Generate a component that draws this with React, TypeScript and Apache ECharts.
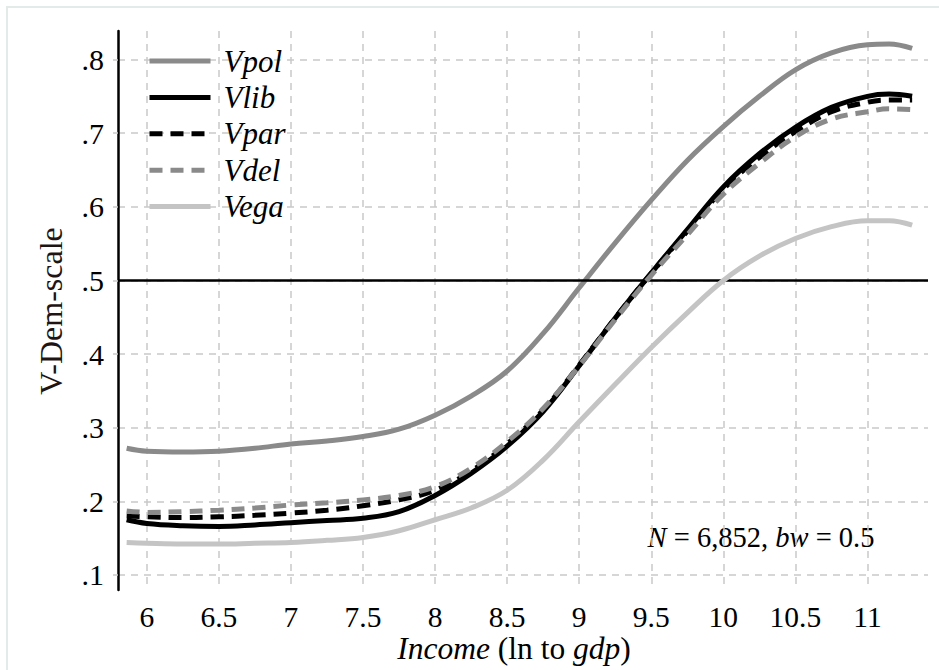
import React, { useEffect, useRef } from 'react';
import * as echarts from 'echarts';

// Income (ln of gdp) positions at which the smoothed curves are read
const income = [5.86, 6.0, 6.25, 6.5, 6.75, 7.0, 7.25, 7.5, 7.75, 8.0, 8.25, 8.5, 8.75, 9.0, 9.25, 9.5, 9.75, 10.0, 10.25, 10.5, 10.75, 11.0, 11.15, 11.31];

const vpol = [0.272, 0.268, 0.267, 0.268, 0.272, 0.278, 0.282, 0.288, 0.298, 0.317, 0.343, 0.377, 0.428, 0.49, 0.551, 0.609, 0.663, 0.709, 0.75, 0.786, 0.809, 0.82, 0.821, 0.815];
const vlib = [0.175, 0.17, 0.167, 0.166, 0.168, 0.171, 0.174, 0.177, 0.186, 0.208, 0.238, 0.275, 0.322, 0.384, 0.449, 0.51, 0.569, 0.627, 0.672, 0.708, 0.735, 0.75, 0.753, 0.75];
const vpar = [0.18, 0.179, 0.178, 0.179, 0.181, 0.184, 0.188, 0.194, 0.202, 0.215, 0.241, 0.278, 0.324, 0.385, 0.449, 0.51, 0.567, 0.624, 0.667, 0.702, 0.729, 0.742, 0.745, 0.745];
const vdel = [0.187, 0.185, 0.186, 0.188, 0.191, 0.195, 0.198, 0.202, 0.208, 0.22, 0.245, 0.281, 0.326, 0.384, 0.447, 0.507, 0.562, 0.617, 0.659, 0.695, 0.719, 0.729, 0.733, 0.732];
const vega = [0.144, 0.143, 0.142, 0.142, 0.143, 0.144, 0.147, 0.151, 0.16, 0.175, 0.191, 0.215, 0.256, 0.308, 0.359, 0.409, 0.456, 0.5, 0.533, 0.557, 0.573, 0.581, 0.581, 0.575];

const xTicks = [6, 6.5, 7, 7.5, 8, 8.5, 9, 9.5, 10, 10.5, 11];
const yTicks = [0.1, 0.2, 0.3, 0.4, 0.5, 0.6, 0.7, 0.8];
const referenceLine = 0.5;

const seriesNames = ['Vpol', 'Vlib', 'Vpar', 'Vdel', 'Vega'];
const seriesValues = [vpol, vlib, vpar, vdel, vega];
const seriesColors = ['#8a8a8a', '#000000', '#000000', '#8a8a8a', '#c4c4c4'];
const seriesDashed = [false, false, true, true, false];

const SERIF = "'Liberation Serif', 'Times New Roman', serif";

export default function App() {
  const ref = useRef<HTMLDivElement>(null);

  useEffect(() => {
    if (!ref.current) return;
    const chart = echarts.init(ref.current, null, { renderer: 'svg' });

    const gridLine = { show: true, lineStyle: { color: '#c9c9c9', width: 1.5, type: [7, 6] } };

    const series: any[] = seriesNames.map((name, i) => ({
      name,
      type: 'line',
      data: income.map((x, k) => [x, seriesValues[i][k]]),
      smooth: 0.4,
      symbol: 'none',
      showSymbol: false,
      lineStyle: {
        color: seriesColors[i],
        width: 5,
        type: seriesDashed[i] ? [13, 8] : 'solid',
        cap: 'butt',
      },
      itemStyle: { color: seriesColors[i] },
      emphasis: { disabled: true },
      z: 3 + i,
    }));

    series[0].markLine = {
      silent: true,
      symbol: ['none', 'none'],
      label: { show: false },
      lineStyle: { color: '#000', width: 2.5, type: 'solid' },
      data: [{ yAxis: referenceLine }],
    };

    const option: any = {
      animation: false,
      backgroundColor: '#ffffff',
      grid: { left: 118, right: 11, top: 31, bottom: 80, containLabel: false },
      xAxis: {
        type: 'value',
        min: 5.8,
        max: 11.42,
        axisLine: { show: false },
        axisTick: { show: false, customValues: xTicks },
        axisLabel: {
          customValues: xTicks,
          formatter: (v: number) => String(v),
          fontFamily: SERIF,
          fontSize: 29.5,
          lineHeight: 24,
          color: '#000',
          margin: 15,
        },
        splitLine: gridLine,
      },
      yAxis: {
        type: 'value',
        min: 0.0796,
        max: 0.8387,
        axisLine: { show: true, lineStyle: { color: '#000', width: 2.5 } },
        axisTick: { show: true, length: 5, customValues: yTicks, lineStyle: { color: '#c9c9c9', width: 1.5 } },
        axisLabel: {
          customValues: yTicks,
          formatter: (v: number) => '.' + Math.round(v * 10),
          fontFamily: SERIF,
          fontSize: 30,
          color: '#000',
          margin: 14,
        },
        splitLine: gridLine,
      },
      legend: {
        orient: 'vertical',
        left: 147,
        top: 45,
        padding: 0,
        itemWidth: 61,
        itemHeight: 32,
        itemGap: 4.4,
        data: seriesNames,
        lineStyle: { width: 5 },
        itemStyle: { opacity: 0, borderWidth: 0 },
        textStyle: {
          fontFamily: SERIF,
          fontStyle: 'italic',
          fontSize: 31,
          color: '#000',
          lineHeight: 32,
          padding: [0, 0, 0, 8],
        },
        selectedMode: false,
      },
      graphic: [
        {
          type: 'rect',
          silent: true,
          shape: { x: 7, y: 7, width: 945, height: 680 },
          style: { fill: 'none', stroke: '#e3eaea', lineWidth: 2 },
          z: -10,
        },
        {
          type: 'text',
          silent: true,
          x: 51,
          y: 311,
          rotation: Math.PI / 2,
          style: {
            text: 'V-Dem-scale',
            fontFamily: SERIF,
            fontSize: 32,
            fill: '#1e1414',
            align: 'center',
            verticalAlign: 'middle',
          },
        },
        {
          type: 'text',
          silent: true,
          x: 514,
          y: 648,
          style: {
            text: '{i|Income} (ln to {i|gdp})',
            fontFamily: SERIF,
            fontSize: 31.5,
            lineHeight: 26,
            fill: '#000',
            align: 'center',
            verticalAlign: 'middle',
            rich: {
              i: { fontFamily: SERIF, fontSize: 31.5, lineHeight: 26, fontStyle: 'italic', fill: '#000' },
            },
          },
        },
        {
          type: 'text',
          silent: true,
          x: 761,
          y: 537,
          style: {
            text: '{i|N} = 6,852, {i|bw} = 0.5',
            fontFamily: SERIF,
            fontSize: 28.5,
            fill: '#000',
            align: 'center',
            verticalAlign: 'middle',
            rich: {
              i: { fontFamily: SERIF, fontSize: 28.5, fontStyle: 'italic', fill: '#000' },
            },
          },
        },
      ],
      series,
    };

    chart.setOption(option);
    return () => chart.dispose();
  }, []);

  return (
    <div
      ref={ref}
      style={{ position: 'fixed', left: 0, top: 0, width: 939, height: 670, background: '#fff' }}
    />
  );
}
